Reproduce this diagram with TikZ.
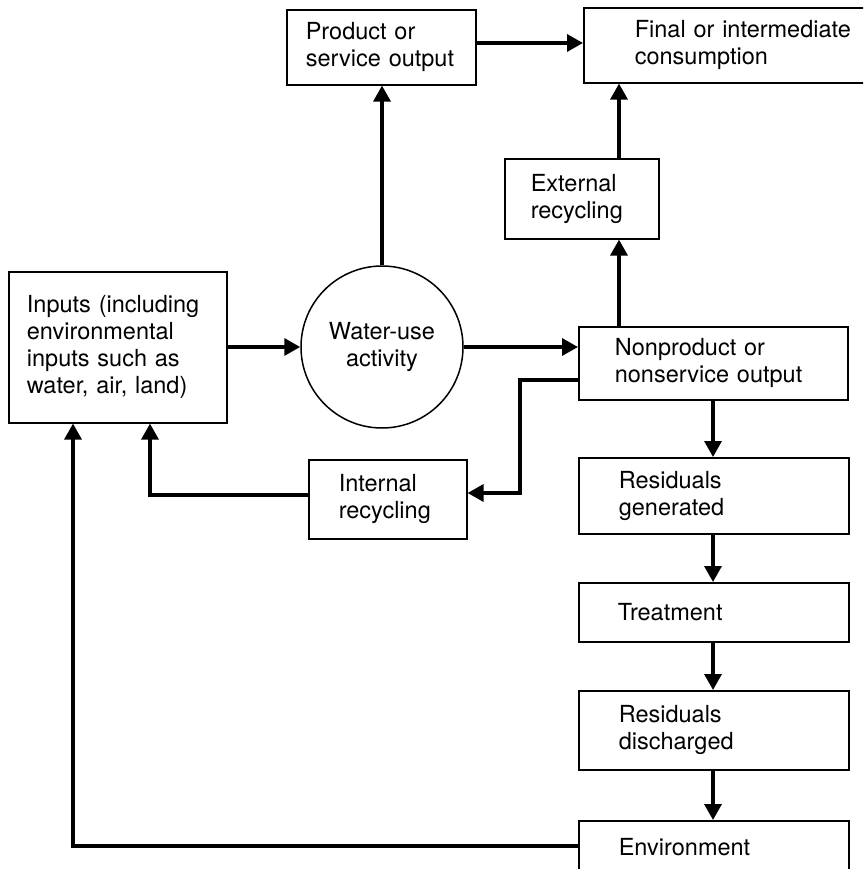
\documentclass[tikz,border=0pt]{standalone}
\usepackage{fontspec}
\setmainfont{TeX Gyre Heros}
\usetikzlibrary{arrows.meta}
\hyphenpenalty=10000
\begin{document}
\begin{tikzpicture}[x=1pt,y=-1pt,
  txt/.style={font=\fontsize{23.5}{27}\selectfont},
  box/.style={txt, draw, line width=1.6pt, rectangle, anchor=north west,
    align=left, inner ysep=0pt},
  ring/.style={txt, draw, line width=1.5pt, circle, inner sep=0pt, align=center},
  link/.style={line width=3.4pt},
  arr/.style={link, -{Triangle[length=16pt,width=17pt]}}]
\useasboundingbox (0,0) rectangle (863,869);
\clip (0,0) rectangle (863,869);
\fill[white] (0,0) rectangle (863,869);

% process boxes
\node[box, inner xsep=19pt, text width=151pt, minimum height=75pt] (prod) at (286,9) {Product or\\service output};
\node[box, inner xsep=51pt, text width=240pt, minimum height=75pt] (final) at (583,7) {Final or intermediate\\consumption};
\node[box, inner xsep=26pt, text width=102pt, minimum height=80pt] (ext) at (504,158) {External\\recycling};
\node[box, inner xsep=18pt, text width=182pt, minimum height=151pt] (inputs) at (8,271) {Inputs (including\\environmental\\inputs such as\\water, air, land)};
\node[ring, minimum size=162pt] (water) at (382,347) {Water-use\\activity};
\node[box, inner xsep=36pt, text width=197pt, minimum height=73pt] (nonprod) at (578,326) {Nonproduct or\\nonservice output};
\node[box, inner xsep=30pt, text width=98pt, minimum height=79pt] (internal) at (308,459) {Internal\\recycling};
\node[box, inner xsep=40pt, text width=190pt, minimum height=76pt] (resgen) at (578,457) {Residuals\\generated};
\node[box, inner xsep=39pt, text width=192pt, minimum height=59pt] (treat) at (578,582) {Treatment};
\node[box, inner xsep=40pt, text width=190pt, minimum height=79pt] (resdis) at (578,690) {Residuals\\discharged};
\node[box, inner xsep=40pt, text width=190pt, minimum height=52pt] (env) at (578,820) {Environment};

% routing points
\coordinate (ya) at (0,43);
\coordinate (xa) at (619,0);
\coordinate (xb) at (713,0);
\coordinate (k1) at (520,380);
\coordinate (k2) at (520,493);
\coordinate (k3) at (150,495);
\coordinate (k4) at (73,846);

% flows
\draw[arr] (inputs.east |- water) -- (water.west);
\draw[arr] (water.north) -- (water.north |- prod.south);
\draw[arr] (prod.east |- ya) -- (final.west |- ya);
\draw[arr] (water.east) -- (water.east -| nonprod.west);
\draw[arr] (nonprod.north -| xa) -- (ext.south -| xa);
\draw[arr] (ext.north -| xa) -- (final.south -| xa);
\draw[arr] (nonprod.west |- k1) -- (k1) -- (k2) -- (k2 -| internal.east);
\draw[arr] (internal.west |- k3) -- (k3) -- (k3 |- inputs.south);
\draw[arr] (env.west |- k4) -- (k4) -- (k4 |- inputs.south);
\draw[arr] (nonprod.south -| xb) -- (resgen.north -| xb);
\draw[arr] (resgen.south -| xb) -- (treat.north -| xb);
\draw[arr] (treat.south -| xb) -- (resdis.north -| xb);
\draw[arr] (resdis.south -| xb) -- (env.north -| xb);
\end{tikzpicture}
\end{document}
